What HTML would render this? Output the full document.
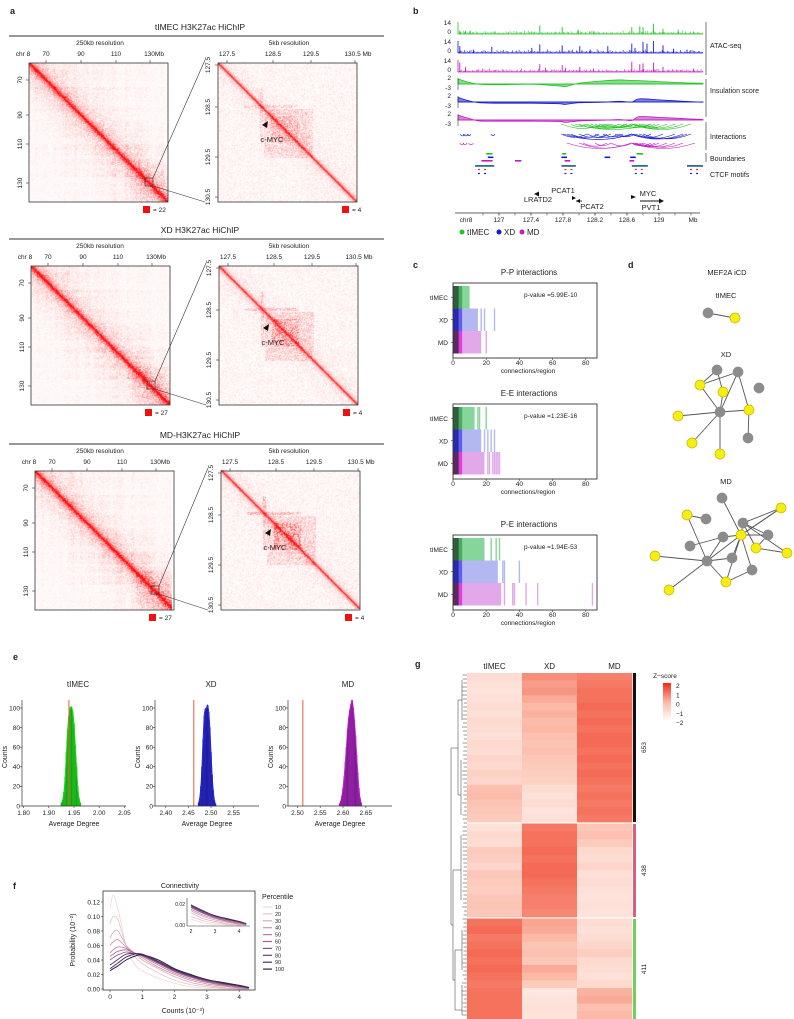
<!DOCTYPE html>
<html><head><meta charset="utf-8">
<style>
html,body{margin:0;padding:0;background:#fff;}
#root{position:relative;width:794px;height:1019px;overflow:hidden;font-family:"Liberation Sans",sans-serif;}
svg{position:absolute;left:0;top:0;}
canvas{position:absolute;}
text{font-family:"Liberation Sans",sans-serif;fill:#222;}
</style></head>
<body>
<div id="root">
<canvas id="h0" width="139" height="139" style="left:29px;top:63px"></canvas>
<canvas id="h1" width="139" height="139" style="left:218px;top:63px"></canvas>
<canvas id="h2" width="139" height="139" style="left:31px;top:266px"></canvas>
<canvas id="h3" width="139" height="139" style="left:219px;top:266px"></canvas>
<canvas id="h4" width="137" height="139" style="left:35px;top:471px"></canvas>
<canvas id="h5" width="139" height="139" style="left:221px;top:470px"></canvas>
<svg id="svg" width="794" height="1019" viewBox="0 0 794 1019">
<defs>
<linearGradient id="zgrad" x1="0" y1="1" x2="0" y2="0"><stop offset="0" stop-color="#ffffff"/><stop offset="0.5" stop-color="#fbb9a6"/><stop offset="1" stop-color="#ee2a14"/></linearGradient>
<clipPath id="insetclip"><rect x="187" y="898" width="63" height="28"/></clipPath>
</defs>
<g id="g-a"></g>
<g id="g-b"></g>
<g id="g-c"></g>
<g id="g-d"></g>
<g id="g-e"></g>
<g id="g-f"></g>
<g id="g-g"></g>
</svg>
</div>
<script>
// ---------------- DATA ----------------
// panel a
const aTitles = ["tIMEC H3K27ac HiChIP","XD H3K27ac HiChIP","MD-H3K27ac   HiChIP"];
const aLegendLeft = [22,27,27];
const aLegendRight = [4,4,4];
const aLeftTicks = ["70","90","110","130"];
const aRightTicks = ["127.5","128.5","129.5","130.5"];
// panel b
const atacGreenPos = [126.51,126.58,126.64,127.41,127.51,127.79,127.99,128.18,128.66,128.76,128.80,128.93,129.05,129.24,129.43];
const atacGreenVal = [4,4,4,3,10,8,5,3,8,9,8,12,6,5,3];
const atacBluePos = [126.51,126.68,126.91,127.41,127.51,127.79,128.01,128.14,128.36,128.66,128.70,128.80,128.85,128.93,129.05,129.18,129.35];
const atacBlueVal = [8,4,7,6,10,9,8,4,8,11,6,13,11,14,9,5,4];
const atacMagPos = [126.51,126.58,127.51,127.58,127.79,127.83,128.01,128.18,128.66,128.76,128.80,128.93,129.05,129.43];
const atacMagVal = [11,6,9,5,8,5,6,4,12,9,10,11,6,4];
const insPos = [126.49,126.6,126.75,127.0,127.4,127.75,127.83,128.0,128.3,128.5,128.66,128.75,129.0,129.3,129.55];
const insGreen = [1.6,0.4,-0.6,-0.8,-0.6,-1.3,-1.6,-0.2,0.8,1.2,1.0,0.9,0.5,0.0,-0.2];
const insBlue = [1.4,0.2,-0.8,-1.0,-1.0,-1.2,-1.5,-0.8,-0.6,-0.2,-0.5,0.8,0.4,-0.2,-0.6];
const insMag = [1.5,0.4,-0.9,-1.0,-1.0,-1.1,-1.5,-0.9,-0.6,-0.3,-0.7,0.9,0.6,0.1,-0.3];
const arcGreenA = [127.78,127.9,128.0,128.05,128.1,128.2,128.25,128.3,128.4,128.5,128.55,128.66,128.7,128.75,128.8,128.66,127.95,128.15,128.35,128.66];
const arcGreenB = [128.3,128.1,128.4,128.6,128.35,128.5,128.6,128.7,128.66,128.8,128.9,128.95,129.1,129.0,129.3,129.2,128.9,128.66,128.7,129.4];
const arcBlueA = [126.51,126.55,126.6,126.9,127.78,127.8,127.9,128.0,128.1,128.2,128.3,128.45,128.5,128.66,128.66,128.7,128.75,128.8,128.66,127.85];
const arcBlueB = [126.58,126.62,126.65,126.95,128.1,128.66,128.25,128.4,128.5,128.35,128.55,128.66,128.7,128.9,129.05,129.2,129.35,129.4,129.3,128.66];
const arcMagA = [126.51,126.55,126.62,127.85,128.05,128.2,128.4,128.66,128.68,128.7,128.72,128.75,128.8,128.66,128.0,128.66];
const arcMagB = [126.56,126.6,126.68,128.66,128.35,128.4,128.66,128.9,129.0,129.1,128.95,129.2,129.3,129.45,128.66,128.8];
const bndGreenS = [126.84,127.79,128.72]; const bndGreenE = [126.92,127.84,128.8];
const bndBlueS = [126.86,127.78,128.32,128.64]; const bndBlueE = [126.93,127.85,128.39,128.71];
const bndMagS = [126.78,127.2,127.82,128.63]; const bndMagE = [126.92,127.28,127.89,128.69];
const ctcfS = [126.7,127.78,128.66,129.35]; const ctcfE = [126.94,127.96,128.86,129.55];
const bTicks = [127,127.4,127.8,128.2,128.6,129];
const bTickLabels = ["127","127.4","127.8","128.2","128.6","129"];
// panel c
const cTitles = ["P-P interactions","E-E interactions","P-E interactions"];
const cPvals = ["p-value =5.99E-10","p-value =1.23E-16","p-value =1.94E-53"];
const cGroups = ["tIMEC","XD","MD"];
const cMain = [[10,15,17],[13,17,19],[19,27,29]];
const cExtra = [[[],[17,19,25],[20]],[[15,16,20],[19,21,23,25],[21,22,24,25,26,27,28]],[[23,26,28],[30,31,40],[31,36,37,44,51,84]]];
const cTicks = [0,20,40,60,80];
// panel d
const dTimecNodes = [[708,313,0],[735,318,1]];
const dTimecEdges = [[0,1]];
const dXdNodes = [[717,370,0],[738,372,0],[700,385,1],[723,392,1],[759,388,0],[720,412,0],[749,410,1],[678,416,1],[692,443,1],[748,438,0],[720,454,1]];
const dXdEdges = [[0,2],[0,3],[1,2],[1,6],[1,5],[2,5],[5,7],[5,6],[5,8],[5,10],[6,9],[3,5]];
const dMdNodes = [[722,498,0],[781,508,1],[687,515,1],[706,519,0],[743,523,0],[741,535,1],[723,537,0],[768,535,0],[690,546,0],[756,548,1],[655,556,1],[732,558,0],[787,553,1],[707,561,0],[752,570,0],[726,582,1],[669,590,1]];
const dMdEdges = [[0,5],[2,3],[2,13],[4,1],[4,5],[4,9],[5,1],[5,6],[5,13],[5,15],[5,11],[5,14],[6,8],[6,13],[7,5],[7,9],[9,12],[10,13],[11,13],[13,15],[13,16],[14,15],[1,5],[4,12],[4,7]];
// panel e
const eTitles = ["tIMEC","XD","MD"];
const eBinsT = [1.925,1.9275,1.93,1.9325,1.935,1.9375,1.94,1.9425,1.945,1.9475,1.95,1.9525,1.955,1.9575,1.96,1.9625];
const eCntT = [3,6,14,30,55,78,92,100,101,96,84,62,40,20,8,3];
const eBinsX = [2.4725,2.475,2.4775,2.48,2.4825,2.485,2.4875,2.49,2.4925,2.495,2.4975,2.5,2.5025,2.505,2.5075,2.51];
const eCntX = [3,8,20,40,68,92,99,100,103,96,80,55,32,16,6,2];
const eBinsM = [2.5925,2.595,2.5975,2.6,2.6025,2.605,2.6075,2.61,2.6125,2.615,2.6175,2.62,2.6225,2.625,2.6275,2.63,2.6325,2.635,2.6375,2.64];
const eCntM = [2,5,10,18,30,45,60,78,90,98,104,108,100,88,72,52,34,18,8,3];
const eRed = [1.94,2.462,2.512];
const eTicksT = [1.85,1.90,1.95,2.00,2.05]; const eTickLabT = ["1.80","1.90","1.95","2.00","2.05"];
const eTicksX = [2.40,2.45,2.50,2.55]; const eTicksM = [2.50,2.55,2.60,2.65];
const eYTicks = [0,20,40,60,80,100];
// panel f
const fX = [0,0.1,0.25,0.5,0.75,1,1.5,2,2.5,3,3.5,4,4.3];
const fP10 = [0.11,0.13,0.11,0.06,0.035,0.025,0.015,0.008,0.003,0.001,0,0,0];
const fP20 = [0.09,0.10,0.095,0.06,0.045,0.035,0.022,0.012,0.006,0.003,0.001,0,0];
const fP30 = [0.07,0.078,0.08,0.06,0.05,0.04,0.028,0.017,0.009,0.005,0.002,0,0];
const fP40 = [0.06,0.065,0.068,0.058,0.05,0.043,0.03,0.02,0.012,0.007,0.004,0.001,0];
const fP50 = [0.05,0.054,0.058,0.056,0.05,0.045,0.033,0.022,0.014,0.009,0.005,0.002,0.001];
const fP60 = [0.045,0.048,0.052,0.054,0.05,0.046,0.035,0.024,0.016,0.01,0.006,0.003,0.001];
const fP70 = [0.04,0.043,0.047,0.051,0.049,0.046,0.036,0.025,0.017,0.011,0.007,0.004,0.001];
const fP80 = [0.033,0.036,0.041,0.048,0.049,0.047,0.037,0.026,0.018,0.012,0.008,0.004,0.002];
const fP90 = [0.028,0.031,0.036,0.044,0.048,0.048,0.038,0.027,0.019,0.013,0.008,0.005,0.002];
const fP100 = [0.025,0.028,0.032,0.04,0.045,0.047,0.04,0.028,0.02,0.013,0.009,0.005,0.002];
const fLabels = ["10","20","30","40","50","60","70","80","90","100"];
const fYTicks = [0,0.02,0.04,0.06,0.08,0.10,0.12];
const fXTicks = [0,1,2,3,4];
// panel g
const gCols = ["tIMEC","XD","MD"];
const gC1T = [-1.0,-1.1,-1.2,-1.1,-1.0,-1.1,-0.9,-1.0,-1.1,-0.9,-1.0,-0.8,-0.9,-0.7,-0.8,-0.2,-0.1,-0.3,-0.4,-0.5];
const gC1X = [0.6,0.4,0.5,0.2,0.0,0.1,-0.1,0.0,-0.2,-0.3,-0.2,-0.4,-0.5,-0.6,-0.7,-1.0,-1.1,-1.0,-1.2,-1.1];
const gC1M = [0.8,0.9,1.0,1.0,1.1,1.0,1.1,1.0,1.1,1.1,1.0,1.1,1.0,1.1,1.0,0.9,1.0,0.9,1.0,0.9];
const gC2T = [-1.1,-0.9,-1.0,-0.5,-0.6,-0.8,-0.4,-0.5,-0.6,-0.4,-0.3,-0.4];
const gC2X = [0.9,1.0,1.0,1.1,1.0,1.1,1.1,1.0,0.9,0.8,0.8,0.7];
const gC2M = [-0.4,-0.2,-0.5,-0.9,-1.0,-0.8,-1.1,-1.0,-1.1,-1.2,-1.1,-1.2];
const gC3T = [1.0,1.1,0.9,1.0,1.1,1.0,1.1,1.0,0.9,1.0,1.0,1.0,1.0];
const gC3X = [0.3,0.2,0.0,-0.3,-0.2,-0.4,0.2,0.0,-0.5,-1.3,-1.2,-1.1,-1.2];
const gC3M = [-1.0,-1.1,-1.0,-0.8,-0.6,-0.9,-1.0,-1.1,-0.9,0.1,0.2,-0.2,0.0];
const gCounts = ["653","438","411"];
const gZTicks = [2,1,0,-1,-2];

// ---------------- HELPERS ----------------
const NS="http://www.w3.org/2000/svg";
function mk(tag,parent){const e=document.createElementNS(NS,tag);parent.appendChild(e);return e;}
function sa(e,o){for(const k in o)e.setAttribute(k,o[k]);return e;}
function txt(parent,x,y,s,size,anchor,rot){const t=mk('text',parent);sa(t,{x:x,y:y,'font-size':size||7,'text-anchor':anchor||'start'});if(rot)t.setAttribute('transform','rotate('+rot+' '+x+' '+y+')');t.textContent=s;return t;}
function ln(parent,x1,y1,x2,y2,c,w){const l=mk('line',parent);sa(l,{x1:x1,y1:y1,x2:x2,y2:y2,stroke:c||'#222','stroke-width':w||0.7});return l;}
function smooth(pts){let d='M'+pts[0][0]+','+pts[0][1];for(let i=0;i<pts.length-1;i++){const p0=pts[i-1]||pts[i],p1=pts[i],p2=pts[i+1],p3=pts[i+2]||p2;const c1x=p1[0]+(p2[0]-p0[0])/6,c1y=p1[1]+(p2[1]-p0[1])/6,c2x=p2[0]-(p3[0]-p1[0])/6,c2y=p2[1]-(p3[1]-p1[1])/6;d+=' C'+c1x+','+c1y+' '+c2x+','+c2y+' '+p2[0]+','+p2[1];}return d;}
function hash(i,j,s){let h=(i*374761393+j*668265263+s*2147483647)|0;h=(h^(h>>>13))*1274126177|0;h=h^(h>>>16);return ((h>>>0)%10000)/10000;}

// ---------------- PANEL A ----------------
const gA=document.getElementById('g-a');
let lbl=txt(gA,10,14,'a',9);lbl.setAttribute('font-weight','bold');

const aTops=[63,266,471], aLX=[29,31,35], aRX=[218,219,221];
aTitles.forEach((t,k)=>{
  const top=aTops[k];
  const g=mk('g',gA);
  
  
  const tt=txt(g,200,top-33,t,8.5,'middle');
  
  ln(g,9,top-27,384,top-27,'#333',1);
  txt(g,100,top-18,'250kb resolution',6.5,'middle');
  txt(g,289,top-18,'5kb resolution',6.5,'middle');
  const lx=aLX[k], rx=aRX[k];
  txt(g,lx-6,top-7,'chr 8',6.5,'middle');
  const ltx=[17,52,87,121];
  aLeftTicks.forEach((s,i)=>{const x=lx+ltx[i];txt(g,x+(i==3?4:0),top-7,s+(i==3?'Mb':''),6.5,'middle');ln(g,x,top-3,x,top,'#333',0.6);
    const y=top+[17,52,81,120][i];txt(g,lx-7,y,s,6.5,'middle',-90);ln(g,lx-3,y,lx,y,'#333',0.6);});
  const rtx=[9,55,93,137];
  aRightTicks.forEach((s,i)=>{const x=rx+rtx[i];txt(g,x+(i==3?3:0),top-7,s+(i==3?' Mb':''),6.5,'middle');ln(g,x,top-3,x,top,'#333',0.6);
    const y=top+[2,44,94,134][i];txt(g,rx-8,y,s,6.5,'middle',-90);ln(g,rx-3,y,rx,y,'#333',0.6);});
  const r1=mk('rect',g);sa(r1,{x:lx,y:top,width:139,height:139,fill:'none',stroke:'#333','stroke-width':0.8});
  const r2=mk('rect',g);sa(r2,{x:rx,y:top,width:139,height:139,fill:'none',stroke:'#333','stroke-width':0.8});
  const bx=lx+116, by=top+115;
  const zb=mk('rect',g);sa(zb,{x:bx,y:by,width:8,height:8,fill:'none',stroke:'#222','stroke-width':0.6});
  
  ln(g,bx+8,by,rx-13,top-3,'#333',0.6);ln(g,bx+8,by+8,rx-13,top+139,'#333',0.6);
  const s1=mk('rect',g);sa(s1,{x:lx+114,y:top+143,width:7,height:7,fill:'#ee1111'});
  
  txt(g,lx+124,top+149,'= '+aLegendLeft[k],6.5);
  const s2=mk('rect',g);sa(s2,{x:rx+124,y:top+143,width:7,height:7,fill:'#ee1111'});
  
  txt(g,rx+134,top+149,'= '+aLegendRight[k],6.5);
  const ar=mk('path',g);sa(ar,{d:'M'+(rx+44)+','+(top+62)+' l6,-4 l-1,7 z',fill:'#111'});
  
  const cm=txt(g,rx+54,top+79,'c-MYC',7.5,'middle');
  
});
// Hi-C textures
function hic(id,mode,strength){
  const c=document.getElementById(id),ctx=c.getContext('2d'),W=c.width,H=c.height;
  const im=ctx.createImageData(W,H);
  for(let y=0;y<H;y++)for(let x=0;x<W;x++){
    const d=Math.abs(x-y);let v;
    const n=hash(x,y,id.charCodeAt(1));
    const s=hash(Math.floor(x/3),7,1)*hash(Math.floor(y/3),9,1);
    if(mode==0){v=Math.exp(-d/2.5)*1.0+0.45*Math.exp(-d/14)*n+0.35*s*n*Math.exp(-d/60)+0.05*n;
      const m=Math.min(x,y); if(m>100){v+=0.25*Math.exp(-d/25)*n*strength;}
    }else{v=Math.exp(-d/1.5)*0.9+0.15*Math.exp(-d/10)*n+0.12*n*n;
      const inb=(x>45&&x<95&&y>45&&y<95);
      if(x>52&&x<80&&y>52&&y<80) v+=0.5*n*strength*0.9;
      else if(inb) v+=0.2*n;
      if((Math.abs(x-43)<2||Math.abs(y-43)<2)&&x>25&&y>25&&x<80&&y<80) v+=0.25*n*strength;
    }
    v=Math.min(1,v);const i=(y*W+x)*4;
    im.data[i]=255;im.data[i+1]=Math.round(255*(1-v*0.95));im.data[i+2]=Math.round(255*(1-v*0.95));im.data[i+3]=255;
  }
  ctx.putImageData(im,0,0);
}
hic('h0',0,0.8);hic('h1',1,0.8);hic('h2',0,1);hic('h3',1,1.1);hic('h4',0,1.2);hic('h5',1,1.3);

// ---------------- PANEL B ----------------
const gB=document.getElementById('g-b');
lbl=txt(gB,413,14,'b',9);lbl.setAttribute('font-weight','bold');

const bx=g=>499+(g-127)*80;
const bL=458,bR=703;
const GREEN='#22c322',BLUE='#1818d0',MAG='#c01cc0';
function atac(pos,val,base,col,name,seed){
  const g=mk('g',gB);
  
  
  ln(g,bL,base,bR,base,col,0.8);ln(g,bL,base-12,bL,base,col,0.8);
  txt(g,451,base-9,'14',6.5,'end');txt(g,451,base,'0',6.5,'end');
  for(let x=bL;x<bR;x+=1.3){const h=1+3*hash(Math.round(x*10),seed,3)*hash(Math.round(x*7),seed,5);ln(g,x,base,x,base-h,col,0.6);}
  pos.forEach((p,i)=>{const l=ln(g,bx(p),base,bx(p),base-val[i]*12/14,col,0.9);});
}
atac(atacGreenPos,atacGreenVal,34,GREEN,'atac-timec',1);
atac(atacBluePos,atacBlueVal,53,BLUE,'atac-xd',2);
atac(atacMagPos,atacMagVal,72,MAG,'atac-md',3);
function ins(vals,top,col,name){
  const g=mk('g',gB);
  
  
  const y=v=>top+(2-v)*12/5;
  const pts=insPos.map((p,i)=>[bx(p),y(vals[i])]);
  const base=y(-0.5);
  const f=mk('path',g);sa(f,{d:smooth(pts)+' L'+bR+','+base+' L'+bL+','+base+' Z',fill:col,'fill-opacity':0.55,stroke:col,'stroke-width':0.8});
  ln(g,bL,base,bR,base,col,0.8);
  ln(g,bL,top,bL,top+12,'#333',0.6);
  txt(g,451,top+2,'2',6.5,'end');txt(g,451,top+12,'-3',6.5,'end');
}
ins(insGreen,78,GREEN,'insulation-timec');
ins(insBlue,96,BLUE,'insulation-xd');
ins(insMag,114,MAG,'insulation-md');
function arcs(A,B,top,col,name){
  const g=mk('g',gB);
  
  
  A.forEach((a,i)=>{const x1=bx(a),x2=bx(B[i]);const dep=Math.min(5.5,1.5+Math.abs(x2-x1)*0.07);
    const p=mk('path',g);sa(p,{d:'M'+x1+','+top+' Q'+((x1+x2)/2)+','+(top+dep*2)+' '+x2+','+top,fill:'none',stroke:col,'stroke-width':0.6});
    });
}
arcs(arcGreenA,arcGreenB,124,GREEN,'interactions-timec');
arcs(arcBlueA,arcBlueB,134,BLUE,'interactions-xd');
arcs(arcMagA,arcMagB,143,MAG,'interactions-md');
function bars(S,E,y,col,h,name){
  const g=mk('g',gB);
  
  
  S.forEach((s,i)=>{const r=mk('rect',g);sa(r,{x:bx(s),y:y,width:bx(E[i])-bx(s),height:h,fill:col});
    });
}
bars(bndGreenS,bndGreenE,153,GREEN,1.6,'boundaries-timec');
bars(bndBlueS,bndBlueE,156.5,BLUE,1.6,'boundaries-xd');
bars(bndMagS,bndMagE,160,MAG,1.6,'boundaries-md');
bars(ctcfS,ctcfE,165,'#2f6f8c',1.8,'ctcf-regions');
ctcfS.forEach((s,i)=>{const x=bx(s)+3;ln(gB,x,169.5,x+2,169.5,'#e03030',1.2);ln(gB,x+6,169.5,x+8,169.5,'#e03030',1.2);ln(gB,x,173.5,x+2,173.5,'#2020c0',1.2);ln(gB,x+6,173.5,x+8,173.5,'#2020c0',1.2);});
[[706,22,75],[706,79,117],[706,122,150],[706,153,162]].forEach(v=>ln(gB,v[0],v[1],v[0],v[2],'#555',0.8));
txt(gB,710,48,'ATAC-seq',7);txt(gB,710,93,'Insulation score',7);txt(gB,710,139,'Interactions',7);txt(gB,710,161,'Boundaries',7);txt(gB,710,177,'CTCF motifs',7);
// genes
const gn=mk('g',gB);


txt(gn,538,202,'LRATD2',7.5,'middle');sa(mk('path',gn),{d:'M534,194 l5,-2.5 v5 z',fill:'#111'});
txt(gn,563,193,'PCAT1',7.5,'middle');sa(mk('path',gn),{d:'M572,196 l4,2 l-4,2 z',fill:'#111'});
sa(mk('path',gn),{d:'M580,199 l-4,2 l4,2 z',fill:'#111'});ln(gn,576,201,582,201,'#111',0.8);
txt(gn,592,209,'PCAT2',7.5,'middle');
txt(gn,648,196,'MYC',7.5,'middle');sa(mk('path',gn),{d:'M631,195 l5,2 l-5,2 z',fill:'#111'});
ln(gn,640,201,660,201,'#111',1);sa(mk('path',gn),{d:'M664,201 l-5,-2.5 v5 z',fill:'#111'});
txt(gn,651,210,'PVT1',7.5,'middle');
const bax=mk('g',gB);


ln(bax,455,213,700,213,'#333',0.8);
txt(bax,466,222,'chr8',6.5,'middle');txt(bax,693,222,'Mb',6.5,'middle');
bTicks.forEach((t,i)=>{ln(bax,bx(t),213,bx(t),215.5,'#333',0.6);txt(bax,bx(t),222,bTickLabels[i],6.5,'middle');});
for(let t=126.8;t<129.5;t+=0.2){ln(bax,bx(t),213,bx(t),215.5,'#333',0.5);}
const leg=mk('g',gB);


[[462,'tIMEC',GREEN],[499,'XD',BLUE],[522,'MD',MAG]].forEach(v=>{const c=mk('circle',leg);sa(c,{cx:v[0],cy:232,r:2.5,fill:v[2]});txt(leg,v[0]+5,235,v[1],8);});

// ---------------- PANEL C ----------------
const gC=document.getElementById('g-c');
lbl=txt(gC,413,268,'c',9);lbl.setAttribute('font-weight','bold');

const cTops=[283,404,535];
const cLight=['#86d59a','#b4b8f0','#e2a8ea'],cDark=['#2e5e3c','#2a2ab0','#5a2a5e'],cMid=['#3aa050','#4a4ae0','#e020e0'];
cTitles.forEach((t,k)=>{
  const top=cTops[k],L=453,R=597,x=v=>L+v*1.66;
  const g=mk('g',gC);
  
  
  txt(g,529,top-8,t,8,'middle');
  cGroups.forEach((grp,r)=>{
    const y0=top+3+r*22.5,h=22.5;
    const m=mk('rect',g);sa(m,{x:x(0),y:y0,width:x(cMain[k][r])-x(0),height:h,fill:cLight[r]});
    
    const d=mk('rect',g);sa(d,{x:x(0),y:y0,width:x(3.5)-x(0),height:h,fill:cDark[r]});
    const d2=mk('rect',g);sa(d2,{x:x(3.5),y:y0,width:x(5.5)-x(3.5),height:h,fill:cMid[r],'fill-opacity':0.8});
    cExtra[k][r].forEach(v=>{const e=mk('rect',g);sa(e,{x:x(v)-0.7,y:y0,width:1.4,height:h,fill:cLight[r]});});
    txt(g,L-5,y0+h/2+2.5,grp,6.5,'end');ln(g,L-2,y0+h/2,L,y0+h/2,'#333',0.6);
  });
  const b=mk('rect',g);sa(b,{x:L,y:top,width:R-L,height:75,fill:'none',stroke:'#333','stroke-width':0.9});
  cTicks.forEach(v=>{ln(g,x(v),top+75,x(v),top+77,'#333',0.6);txt(g,x(v),top+82,String(v),6.5,'middle');});
  txt(g,528,top+90,'connections/region',6.5,'middle');
  const p=txt(g,524,top+14,cPvals[k],6.5);
  
});

// ---------------- PANEL D ----------------
const gD=document.getElementById('g-d');
lbl=txt(gD,628,268,'d',9);lbl.setAttribute('font-weight','bold');

txt(gD,727,275,'MEF2A iCD',7.5,'middle');
function net(nodes,edges,name,label,ly){
  const g=mk('g',gD);
  
  
  txt(g,726,ly,label,7.5,'middle');
  edges.forEach(e=>{const a=nodes[e[0]],b=nodes[e[1]];const l=ln(g,a[0],a[1],b[0],b[1],'#555',0.9);});
  nodes.forEach(n=>{const c=mk('circle',g);sa(c,{cx:n[0],cy:n[1],r:5,fill:n[2]?'#f5ee10':'#8c8c8c',stroke:n[2]?'#c8b400':'#8c8c8c','stroke-width':0.7});});
}
net(dTimecNodes,dTimecEdges,'network-timec','tIMEC',298);
net(dXdNodes,dXdEdges,'network-xd','XD',357);
net(dMdNodes,dMdEdges,'network-md','MD',484);

// ---------------- PANEL E ----------------
const gE=document.getElementById('g-e');
lbl=txt(gE,13,660,'e',9);lbl.setAttribute('font-weight','bold');

const eCfg=[
 {L:22,R:126,v0:1.95,p0:74,s:504,bins:eBinsT,cnt:eCntT,ticks:eTicksT,labs:eTickLabT,col:'#1c9c1c',edge:'#10e010',title:78,red:eRed[0]},
 {L:155,R:259,v0:2.50,p0:211,s:452,bins:eBinsX,cnt:eCntX,ticks:eTicksX,labs:["2.40","2.45","2.50","2.55"],col:'#1a1a90',edge:'#2828e0',title:211,red:eRed[1]},
 {L:288,R:392,v0:2.60,p0:343,s:456,bins:eBinsM,cnt:eCntM,ticks:eTicksM,labs:["2.50","2.55","2.60","2.65"],col:'#6a1a80',edge:'#c020d0',title:348,red:eRed[2]}];
eCfg.forEach((c,k)=>{
  const g=mk('g',gE);
  
  
  const x=v=>c.p0+(v-c.v0)*c.s, y=v=>806-v*0.98;
  txt(g,c.title,687,eTitles[k],8,'middle');
  const bw=0.0025*c.s;
  c.bins.forEach((b,i)=>{const r=mk('rect',g);sa(r,{x:x(b)-bw/2,y:y(c.cnt[i]),width:bw,height:806-y(c.cnt[i]),fill:c.col,stroke:c.edge,'stroke-width':0.3});});
  const pts=c.bins.map((b,i)=>[x(b),y(c.cnt[i])]);
  sa(mk('path',g),{d:smooth(pts),fill:'none',stroke:c.edge,'stroke-width':0.9});
  const rl=ln(g,x(c.red),700,x(c.red),806,'#e84a2a',0.9);
  ln(g,c.L,700,c.L,806,'#333',0.7);ln(g,c.L,806,c.R,806,'#333',0.7);
  eYTicks.forEach(v=>{ln(g,c.L-2,y(v),c.L,y(v),'#333',0.6);txt(g,c.L-2,y(v)+2.3,String(v),6.5,'end');});
  c.ticks.forEach((v,i)=>{ln(g,x(v),806,x(v),808,'#333',0.6);txt(g,x(v),815,c.labs[i],6.5,'middle');});
  txt(g,(c.L+c.R)/2,826,'Average Degree',7,'middle');
  txt(g,c.L-15,757,'Counts',7,'middle',-90);
});

// ---------------- PANEL F ----------------
const gF=document.getElementById('g-f');
lbl=txt(gF,13,889,'f',9);lbl.setAttribute('font-weight','bold');

const fSeries=[fP10,fP20,fP30,fP40,fP50,fP60,fP70,fP80,fP90,fP100];
const fCols=['#f0d8d6','#e8c2c4','#ddaab6','#cc92a8','#ba7a9c','#a46492','#8a5086','#6c3e72','#4e3062','#2e2448'];
{
  const g=mk('g',gF);
  
  
  const x=v=>110+v*32.3, y=v=>989-v*725;
  txt(g,180,888,'Connectivity',7,'middle');
  fSeries.forEach((s,i)=>{const p=mk('path',g);sa(p,{d:smooth(fX.map((v,j)=>[x(v),y(s[j])])),fill:'none',stroke:fCols[i],'stroke-width':i>6?1:0.8});});
  sa(mk('rect',g),{x:103,y:891,width:152,height:99,fill:'none',stroke:'#333','stroke-width':0.8});
  fYTicks.forEach(v=>{ln(g,101,y(v),103,y(v),'#333',0.6);txt(g,100,y(v)+2.3,v.toFixed(2),6.5,'end');});
  fXTicks.forEach(v=>{ln(g,x(v),990,x(v),992,'#333',0.6);txt(g,x(v),999,String(v),6.5,'middle');});
  txt(g,183,1013,'Counts (10⁻³)',7,'middle');
  txt(g,75,940,'Probability (10⁻²)',7,'middle',-90);
  // inset
  const ins=mk('g',g);
  
  
  const ix=v=>191+(v-2)*24, iy=v=>925-v*1000;
  sa(mk('rect',ins),{x:172,y:896,width:80,height:40,fill:'#fff',stroke:'none'});
  const cl=mk('g',ins);cl.setAttribute('clip-path','url(#insetclip)');
  fSeries.forEach((s,i)=>{const pts=[];fX.forEach((v,j)=>{if(v>=2)pts.push([ix(v),iy(s[j]*0.72)]);});const p=mk('path',cl);sa(p,{d:smooth(pts),fill:'none',stroke:fCols[i],'stroke-width':0.7});});
  ln(ins,187,898,187,926,'#333',0.6);ln(ins,187,926,250,926,'#333',0.6);
  txt(ins,185,906,'0.02',5,'end');txt(ins,185,927,'0.00',5,'end');
  [2,3,4].forEach(v=>{txt(ins,ix(v),933,String(v),5,'middle');});
  // legend
  const lg=mk('g',g);
  
  
  txt(lg,262,899,'Percentile',7);
  fLabels.forEach((s,i)=>{const yy=907+i*6.9;ln(lg,263,yy,272,yy,fCols[i],1.2);txt(lg,275,yy+2,s,5.5);});
}

// ---------------- PANEL G ----------------
const gG=document.getElementById('g-g');
lbl=txt(gG,415,667,'g',9);lbl.setAttribute('font-weight','bold');

function zcol(z){const t=Math.max(0,Math.min(1,(z+2)/4));
  const lo=[255,255,255],mid=[251,185,166],hi=[238,42,20];let c;
  if(t<0.5){const u=t/0.5;c=lo.map((v,i)=>v+(mid[i]-v)*u);}else{const u=(t-0.5)/0.5;c=mid.map((v,i)=>v+(hi[i]-v)*u);}
  return 'rgb('+c.map(Math.round).join(',')+')';}
{
  const g=mk('g',gG);
  
  
  const colX=[467,522,577],cw=55;
  gCols.forEach((c,i)=>txt(g,colX[i]+cw/2+(i==2?10:0),669,c,8,'middle'));
  const clusters=[[gC1T,gC1X,gC1M,673,822],[gC2T,gC2X,gC2M,823.5,917],[gC3T,gC3X,gC3M,918.5,1019]];
  clusters.forEach((cl,ci)=>{
    const n=cl[0].length,h=(cl[4]-cl[3])/n;
    for(let r=0;r<n;r++)for(let c=0;c<3;c++){
      const rc=mk('rect',g);sa(rc,{x:colX[c],y:cl[3]+r*h,width:cw+0.3,height:h+0.4,fill:zcol(cl[c][r])});
      
    }
  });
  const sb=[[673,822,'#111'],[824,917,'#d9607a'],[919,1019,'#6fcf5f']];
  sb.forEach((s,i)=>{const r=mk('rect',g);sa(r,{x:633,y:s[0],width:3,height:s[1]-s[0],fill:s[2]});
    txt(g,646,(s[0]+s[1])/2,gCounts[i],6.5,'middle',-90);});
  // dendrogram
  const dg=mk('g',g);
  
  
  const dl=(a,b,c,d)=>ln(dg,a,b,c,d,'#333',0.5);
  dl(451,748,451,925);dl(451,748,458,748);dl(451,925,453,925);
  dl(458,700,458,795);dl(458,700,462,700);dl(458,795,461,795);
  dl(453,870,453,980);dl(453,870,461,870);dl(453,980,455,980);
  dl(455,950,455,1010);dl(455,950,462,950);dl(455,1010,462,1010);
  for(let yy=675;yy<1018;yy+=4){dl(462+hash(yy,1,2)*2,yy,467,yy);}
  [[462,680,720],[461,760,815],[461,835,900],[462,930,970],[462,985,1015]].forEach(v=>dl(v[0],v[1],v[0],v[2]));
  // legend
  const zl=mk('g',g);
  
  
  txt(zl,665,678,'Z−score',6.5,'middle');
  sa(mk('rect',zl),{x:663,y:683,width:8,height:38,fill:'url(#zgrad)'});
  gZTicks.forEach((v,i)=>txt(zl,676,688+i*9.3,v<0?'−'+Math.abs(v):String(v),6.5,'start'));
}
</script>
</body></html>
